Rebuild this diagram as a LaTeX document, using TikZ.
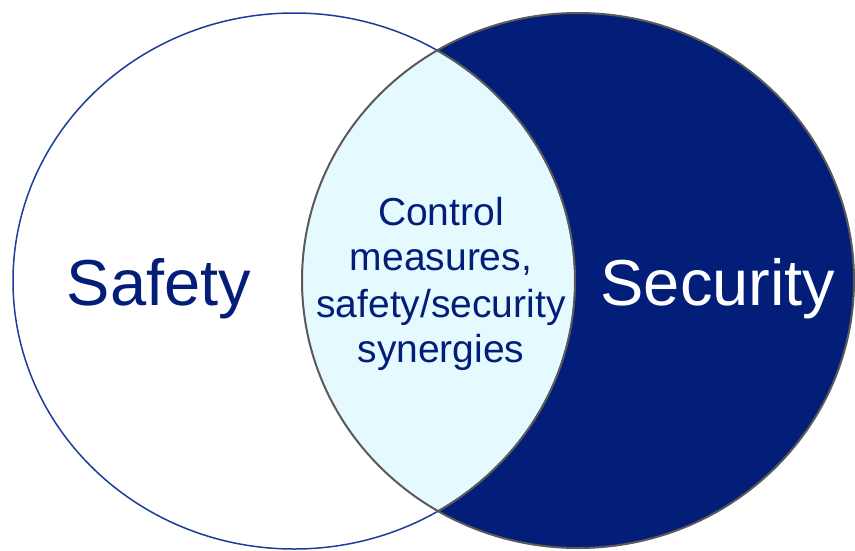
\documentclass[tikz,border=0pt]{standalone}
\usepackage{fontspec}
\setmainfont{Liberation Sans}
\definecolor{navy}{HTML}{021E78}
\definecolor{lensfill}{HTML}{E4FAFF}
\definecolor{rimgray}{HTML}{5A5A5A}
\definecolor{rimblue}{HTML}{1E3C9A}
\tikzset{
  bigword/.style={font=\fontsize{65}{78}\selectfont, anchor=base, inner sep=0pt},
  midtext/.style={font=\fontsize{39}{46}\selectfont, text=navy, align=center, anchor=base, inner sep=0pt},
  grayrim/.style={draw=rimgray, line width=2pt},
  bluerim/.style={draw=rimblue, line width=1.5pt}
}
\begin{document}
\begin{tikzpicture}[x=1pt,y=-1pt]
\fill[white] (0,0) rectangle (855,550);
\useasboundingbox (0,0) rectangle (855,550);
% right circle (Security)
\fill[navy] (578,280.5) ellipse [x radius=276pt, y radius=267.5pt];
% lens
\begin{scope}
  \clip (294,281) ellipse [x radius=281pt, y radius=268pt];
  \fill[lensfill] (578,280.5) ellipse [x radius=276pt, y radius=267.5pt];
\end{scope}
% outlines
\draw[bluerim] (294,281) ellipse [x radius=281pt, y radius=268pt];
\draw[grayrim] (578,280.5) ellipse [x radius=276pt, y radius=267.5pt];
\begin{scope}
  \clip (578,280.5) ellipse [x radius=276pt, y radius=267.5pt];
  \draw[grayrim] (294,281) ellipse [x radius=281pt, y radius=268pt];
\end{scope}
% texts
\node[bigword, text=navy] (safety) at (159,305) {Safety};
\node[bigword, text=white] (security) at (718,305) {Security};
\node[midtext] (l1) at (441,225) {Control};
\node[midtext] (l2) at (441,270) {measures,};
\node[midtext] (l3) at (441,317) {safety/security};
\node[midtext] (l4) at (441,362) {synergies};
\end{tikzpicture}
\end{document}
